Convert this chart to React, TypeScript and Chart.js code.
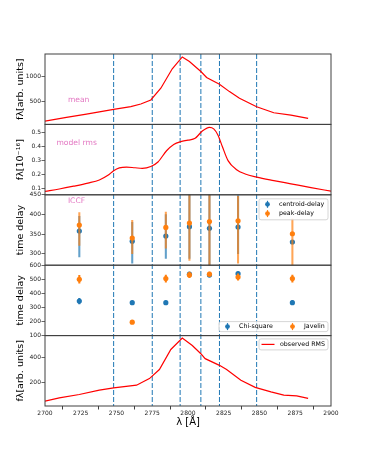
import React, { useEffect, useRef } from "react";
import { Chart, registerables } from "chart.js";

Chart.register(...registerables);

const FONT = "'DejaVu Sans', sans-serif";
const BLUE = "#1f77b4";
const ORANGE = "#ff7f0e";
const RED = "#ff0000";
const PINK = "#e377c2";
const FRAME = "#404040";

// ---------- axes ----------
const xTickValues = [2700, 2725, 2750, 2775, 2800, 2825, 2850, 2875, 2900];
const dashWave = [2748, 2775, 2794.5, 2809, 2822, 2848];

const meanTicks = [500, 1000];
const modelTicks = [0.1, 0.2, 0.3, 0.4, 0.5];
const iccfTicks = [300, 350, 400, 450];
const fitTicks = [100, 200, 300, 400, 500, 600];
const rmsTicks = [200, 400];

// ---------- mean spectrum ----------
const meanWave = [2700, 2715, 2729, 2748, 2760, 2767, 2774, 2781, 2789, 2796, 2801, 2809, 2813, 2822, 2829, 2836, 2848, 2856, 2860, 2872, 2884];
const meanFlux = [114, 188, 254, 348, 400, 454, 534, 768, 1154, 1390, 1300, 1100, 980, 848, 700, 568, 400, 320, 280, 234, 168];

// ---------- model rms ----------
const modelWave = [2700, 2710, 2720, 2730, 2738, 2744, 2748, 2752, 2757, 2763, 2768, 2774, 2779, 2785, 2790, 2795, 2800, 2805, 2810, 2815, 2818, 2821, 2824, 2828, 2834, 2840, 2848, 2860, 2872, 2886, 2900];
const modelFlux = [0.081, 0.098, 0.118, 0.14, 0.162, 0.195, 0.228, 0.248, 0.254, 0.249, 0.245, 0.258, 0.29, 0.37, 0.415, 0.435, 0.445, 0.458, 0.51, 0.536, 0.525, 0.48, 0.4, 0.3, 0.235, 0.205, 0.183, 0.158, 0.135, 0.108, 0.083];

// ---------- observed RMS ----------
const rmsWave = [2700, 2710, 2724, 2738, 2748, 2764, 2773, 2780, 2788, 2796, 2803, 2809, 2812, 2822, 2827, 2837, 2847, 2858, 2867, 2876, 2884];
const rmsFlux = [50, 76, 103, 138, 156, 178, 231, 304, 466, 558, 498, 432, 392, 338, 304, 218, 160, 124, 98, 92, 72];

// ---------- time delays ----------
const binWave = [2724, 2761, 2784.5, 2801, 2815, 2835, 2873];
const centroidDelay = [358, 332, 345, 369, 365, 368, 330];
const centroidLo = [292, 276, 288, 288, 250, 300, 330];
const centroidHi = [395, 380, 400, 455, 460, 448, 330];
const peakDelay = [373, 340, 367, 378, 382, 384, 351];
const peakLo = [321, 300, 314, 283, 260, 276, 260];
const peakHi = [405, 385, 406, 460, 460, 446, 389];

const chiDelay = [345, 334, 334, 536, 530, 540, 334];
const chiErr = [20, 12, 12, 10, 10, 12, 15];
const javDelay = [500, 195, 505, 531, 536, 516, 505];
const javErr = [28, 0, 25, 20, 15, 22, 25];

// ---------- annotations ----------
const panelLabels = ["mean", "model rms", "ICCF"];
const panelLabelAxis = ["y1", "y2", "y3"];
const panelLabelX = [2716, 2708, 2716];
const panelLabelY = [500, 0.41, 428];
const iccfLegend = ["centroid-delay", "peak-delay"];
const fitLegend = ["Chi-square", "Javelin"];
const rmsLegend = ["observed RMS"];

function curve(wave: number[], vals: number[], yAxisID: string, smooth: boolean) {
  return {
    type: "line" as const,
    data: wave.map((x, i) => ({ x, y: vals[i] })),
    borderColor: RED,
    borderWidth: 1.2,
    pointRadius: 0,
    fill: false,
    tension: smooth ? 0.4 : 0,
    cubicInterpolationMode: smooth ? ("monotone" as const) : ("default" as const),
    yAxisID,
  };
}

function errBars(wave: number[], lo: number[], hi: number[], color: string, yAxisID: string) {
  return {
    type: "bar" as const,
    data: wave.map((x, i) => ({ x, y: [lo[i], hi[i]] })),
    backgroundColor: color,
    borderWidth: 0,
    barThickness: 1.4,
    grouped: false,
    clip: 0,
    yAxisID,
  };
}

function markers(wave: number[], vals: number[], color: string, yAxisID: string) {
  return {
    type: "scatter" as const,
    data: wave.map((x, i) => ({ x, y: vals[i] })),
    backgroundColor: color,
    borderColor: color,
    pointRadius: 2.6,
    pointBorderWidth: 0,
    showLine: false,
    yAxisID,
  };
}

function yAxis(min: number, max: number, ticks: number[], title: string, weight: number, titleSize = 9.5) {
  return {
    type: "linear" as const,
    position: "left" as const,
    stack: "panels",
    stackWeight: 1,
    weight,
    min,
    max,
    afterBuildTicks: (s: any) => {
      s.ticks = ticks.map((v) => ({ value: v }));
    },
    afterFit: (s: any) => {
      s.width = 45;
    },
    grid: { drawOnChartArea: false, drawTicks: true, tickLength: 3.5, color: FRAME, tickColor: FRAME, tickWidth: 0.8 },
    border: { display: false },
    ticks: {
      font: { size: 6, family: FONT },
      color: "#222",
      padding: 0.5,
      autoSkip: false,
      callback: (v: any) => String(v),
    },
    title: {
      display: true,
      text: title,
      font: { size: titleSize, family: FONT },
      color: "#000",
      padding: { top: 15, bottom: 0 },
    },
  };
}

function legendBox(ctx: CanvasRenderingContext2D, l: number, t: number, w: number, h: number) {
  ctx.save();
  ctx.fillStyle = "rgba(255,255,255,0.85)";
  ctx.strokeStyle = "#cccccc";
  ctx.lineWidth = 0.8;
  ctx.beginPath();
  (ctx as any).roundRect(l, t, w, h, 2);
  ctx.fill();
  ctx.stroke();
  ctx.restore();
}

function errMarker(ctx: CanvasRenderingContext2D, x: number, y: number, color: string) {
  ctx.save();
  ctx.strokeStyle = color;
  ctx.fillStyle = color;
  ctx.lineWidth = 1.2;
  ctx.beginPath();
  ctx.moveTo(x, y - 3.5);
  ctx.lineTo(x, y + 3.5);
  ctx.stroke();
  ctx.beginPath();
  ctx.arc(x, y, 2.4, 0, Math.PI * 2);
  ctx.fill();
  ctx.restore();
}

const decorPlugin = {
  id: "decor",
  beforeDatasetsDraw(chart: any) {
    const { ctx, chartArea, scales } = chart;
    ctx.save();
    ctx.strokeStyle = BLUE;
    ctx.lineWidth = 1;
    ctx.setLineDash([5, 2]);
    dashWave.forEach((w) => {
      const px = scales.x.getPixelForValue(w);
      ctx.beginPath();
      ctx.moveTo(px, chartArea.top);
      ctx.lineTo(px, chartArea.bottom);
      ctx.stroke();
    });
    ctx.restore();
  },
  afterDraw(chart: any) {
    const { ctx, chartArea, scales } = chart;
    const width = chartArea.right - chartArea.left;
    // frames
    ctx.save();
    ctx.strokeStyle = FRAME;
    ctx.lineWidth = 1;
    ["y1", "y2", "y3", "y4", "y5"].forEach((id) => {
      const s = scales[id];
      ctx.strokeRect(chartArea.left, s.top, width, s.bottom - s.top);
    });
    ctx.restore();

    // panel labels
    ctx.save();
    ctx.fillStyle = PINK;
    ctx.font = `7.6px ${FONT}`;
    ctx.textBaseline = "alphabetic";
    ctx.textAlign = "left";
    panelLabels.forEach((txt, i) => {
      const px = scales.x.getPixelForValue(panelLabelX[i]);
      const py = scales[panelLabelAxis[i]].getPixelForValue(panelLabelY[i]);
      ctx.fillText(txt, px, py);
    });
    ctx.restore();

    const right = chartArea.right;
    ctx.save();
    ctx.font = `6.3px ${FONT}`;
    ctx.textBaseline = "middle";
    ctx.textAlign = "left";

    // ICCF legend
    {
      const w = 69, h = 21;
      const l = right - 3 - w;
      const t = scales.y3.top + 4;
      legendBox(ctx, l, t, w, h);
      const rows = [t + 5.5, t + 14.8];
      const cols = [BLUE, ORANGE];
      iccfLegend.forEach((txt, i) => {
        errMarker(ctx, l + 8.5, rows[i], cols[i]);
        ctx.fillStyle = "#000";
        ctx.fillText(txt, l + 20, rows[i]);
      });
    }
    // Fit legend
    {
      const w = 109, h = 10;
      const l = right - 3 - w;
      const t = scales.y4.bottom - 4 - h;
      legendBox(ctx, l, t, w, h);
      const cy = t + h / 2;
      const mx = [l + 8.5, l + 73.5];
      const cols = [BLUE, ORANGE];
      fitLegend.forEach((txt, i) => {
        errMarker(ctx, mx[i], cy, cols[i]);
        ctx.fillStyle = "#000";
        ctx.fillText(txt, mx[i] + 11.5, cy);
      });
    }
    // RMS legend
    {
      const w = 69, h = 11;
      const l = right - 3 - w;
      const t = scales.y5.top + 3.3;
      legendBox(ctx, l, t, w, h);
      const cy = t + h / 2;
      ctx.strokeStyle = RED;
      ctx.lineWidth = 1.2;
      ctx.beginPath();
      ctx.moveTo(l + 2.5, cy);
      ctx.lineTo(l + 15.5, cy);
      ctx.stroke();
      ctx.fillStyle = "#000";
      ctx.fillText(rmsLegend[0], l + 21, cy);
    }
    ctx.restore();
  },
};

export default function App() {
  const ref = useRef<HTMLCanvasElement | null>(null);

  useEffect(() => {
    if (!ref.current) return;
    const chart = new Chart(ref.current, {
      type: "line",
      data: {
        datasets: [
          curve(meanWave, meanFlux, "y1", false),
          curve(modelWave, modelFlux, "y2", true),
          markers(binWave, peakDelay, ORANGE, "y3"),
          errBars(binWave, peakLo, peakHi, "rgba(255,127,14,0.7)", "y3"),
          markers(binWave, centroidDelay, BLUE, "y3"),
          errBars(binWave, centroidLo, centroidHi, "rgba(31,119,180,0.7)", "y3"),
          markers(binWave, javDelay, ORANGE, "y4"),
          errBars(binWave, javDelay.map((v, i) => v - javErr[i]), javDelay.map((v, i) => v + javErr[i]), ORANGE, "y4"),
          markers(binWave, chiDelay, BLUE, "y4"),
          errBars(binWave, chiDelay.map((v, i) => v - chiErr[i]), chiDelay.map((v, i) => v + chiErr[i]), BLUE, "y4"),
          curve(rmsWave, rmsFlux, "y5", false),
        ] as any,
      },
      options: {
        animation: false,
        responsive: false,
        events: [],
        layout: { padding: { top: 54, right: 37, left: 0, bottom: 20 } },
        plugins: { legend: { display: false }, tooltip: { enabled: false } },
        scales: {
          x: {
            type: "linear",
            position: "bottom",
            min: 2700,
            max: 2900,
            offset: false,
            afterBuildTicks: (s: any) => {
              s.ticks = xTickValues.map((v) => ({ value: v }));
            },
            afterFit: (s: any) => {
              s.height = 30;
            },
            grid: { drawOnChartArea: false, drawTicks: true, tickLength: 3.5, color: FRAME, tickColor: FRAME },
            border: { display: false },
            ticks: {
              font: { size: 6, family: FONT },
              color: "#222",
              padding: 0,
              autoSkip: false,
              maxRotation: 0,
              callback: (v: any) => String(v),
            },
            title: {
              display: true,
              text: "λ [Å]",
              font: { size: 10, family: FONT },
              color: "#000",
              padding: { top: 0, bottom: 8 },
            },
          },
          y1: yAxis(48, 1448, meanTicks, "fλ[arb. units]", 5),
          y2: yAxis(0.057, 0.557, modelTicks, "fλ[10⁻¹⁶]", 4),
          y3: yAxis(271, 450, iccfTicks, "time delay", 3),
          y4: yAxis(100, 600, fitTicks, "time delay", 2),
          y5: yAxis(10, 578, rmsTicks, "fλ[arb. units]", 1),
        } as any,
      },
      plugins: [decorPlugin],
    });
    return () => chart.destroy();
  }, []);

  return (
    <div style={{ position: "absolute", left: 0, top: 0, width: 368, height: 456, background: "#fff" }}>
      <canvas ref={ref} width={368} height={456} style={{ display: "block" }} />
    </div>
  );
}
